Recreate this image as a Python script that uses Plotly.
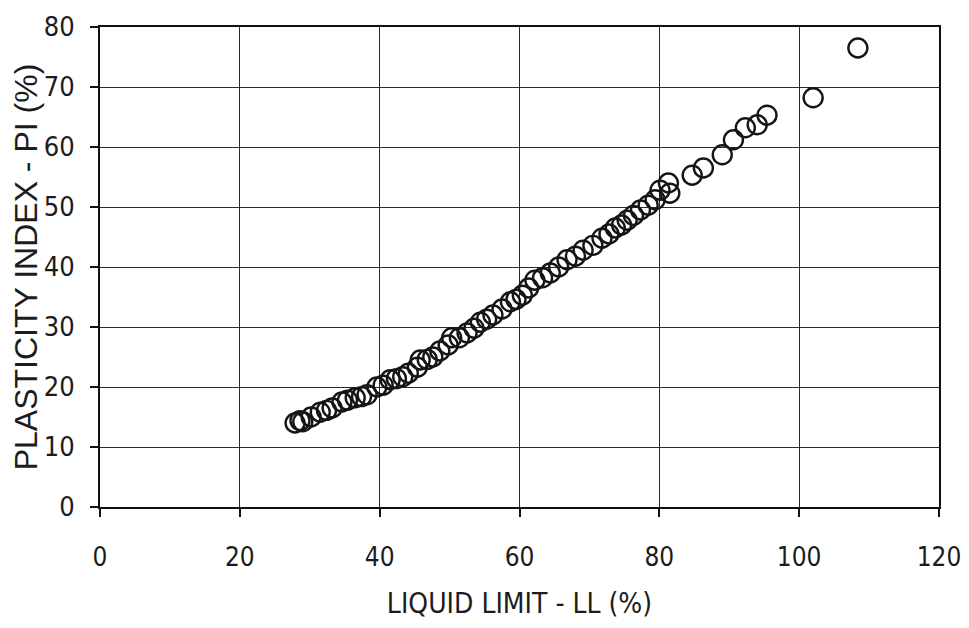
import plotly.graph_objects as go

liquid_limit = [27.9, 28.6, 29.0, 30.2, 31.5, 32.4, 33.2, 34.6, 35.4, 36.5, 37.4, 38.2, 39.6, 40.5,
                41.5, 42.4, 43.3, 44.1, 45.4, 45.8, 46.8, 47.6, 48.6, 49.8, 50.3, 51.4, 52.5,
                53.5, 54.4, 55.3, 56.2, 57.5, 58.7, 59.5, 60.4, 61.3, 62.2, 63.3, 64.4, 65.6,
                66.8, 68.0, 69.1, 70.5, 71.8, 72.8, 73.7, 74.6, 75.4, 76.3, 77.3, 78.4, 79.4,
                80.1, 81.3, 81.5, 84.7, 86.3, 89.0, 90.6, 92.3, 94.0, 95.4, 102.0, 108.4]
plasticity_index = [14.0, 14.4, 14.2, 15.0, 15.8, 16.1, 16.5, 17.5, 17.8, 18.2, 18.4, 18.7, 20.0, 20.3,
                    21.2, 21.4, 21.7, 22.3, 23.3, 24.5, 24.6, 25.0, 26.0, 27.0, 28.2, 28.2, 29.0,
                    29.8, 30.8, 31.3, 32.0, 33.0, 34.2, 34.6, 35.3, 36.5, 37.8, 38.2, 39.0, 40.0,
                    41.2, 41.8, 42.8, 43.6, 44.8, 45.5, 46.5, 47.0, 47.8, 48.6, 49.5, 50.3, 51.2,
                    52.8, 54.0, 52.3, 55.3, 56.5, 58.7, 61.2, 63.2, 63.7, 65.3, 68.2, 76.5]

x_ticks = [0, 20, 40, 60, 80, 100, 120]
y_ticks = [0, 10, 20, 30, 40, 50, 60, 70, 80]

narrow = "Liberation Sans Narrow, Arial Narrow, DejaVu Sans Condensed, Liberation Sans, sans-serif"
regular = "Liberation Sans, Arial, sans-serif"
ink = "#1c1c1c"

fig = go.Figure()
fig.add_trace(go.Scatter(
    x=liquid_limit, y=plasticity_index, mode="markers",
    marker=dict(symbol="circle-open", size=19, color="#151515", line=dict(width=2.4)),
    showlegend=False,
))

axis_common = dict(
    automargin=False,
    ticklabeloverflow="allow",
    showgrid=True, gridcolor="#2a2a2a", gridwidth=1.4,
    showline=True, linecolor="#111111", linewidth=2, mirror=True,
    ticks="outside", ticklen=8, tickcolor="#111111", tickwidth=1.5,
    zeroline=False,
)

fig.update_layout(
    width=953, height=612,
    margin=dict(l=92, r=22, t=19, b=113),
    paper_bgcolor="white", plot_bgcolor="white",
    xaxis=dict(range=[0, 120], tickvals=x_ticks, ticklabelstandoff=18,
               tickfont=dict(family=narrow, size=26, color=ink),
               title=dict(text="LIQUID LIMIT - LL (%)", standoff=26,
                          font=dict(family=narrow, size=28, color=ink)),
               **axis_common),
    yaxis=dict(range=[0, 80], tickvals=y_ticks, ticklabelstandoff=10,
               tickfont=dict(family=narrow, size=27, color=ink),
               title=dict(text="PLASTICITY INDEX - PI (%)", standoff=28,
                          font=dict(family=regular, size=32, color=ink)),
               **axis_common),
)

fig.write_html("out.html")
